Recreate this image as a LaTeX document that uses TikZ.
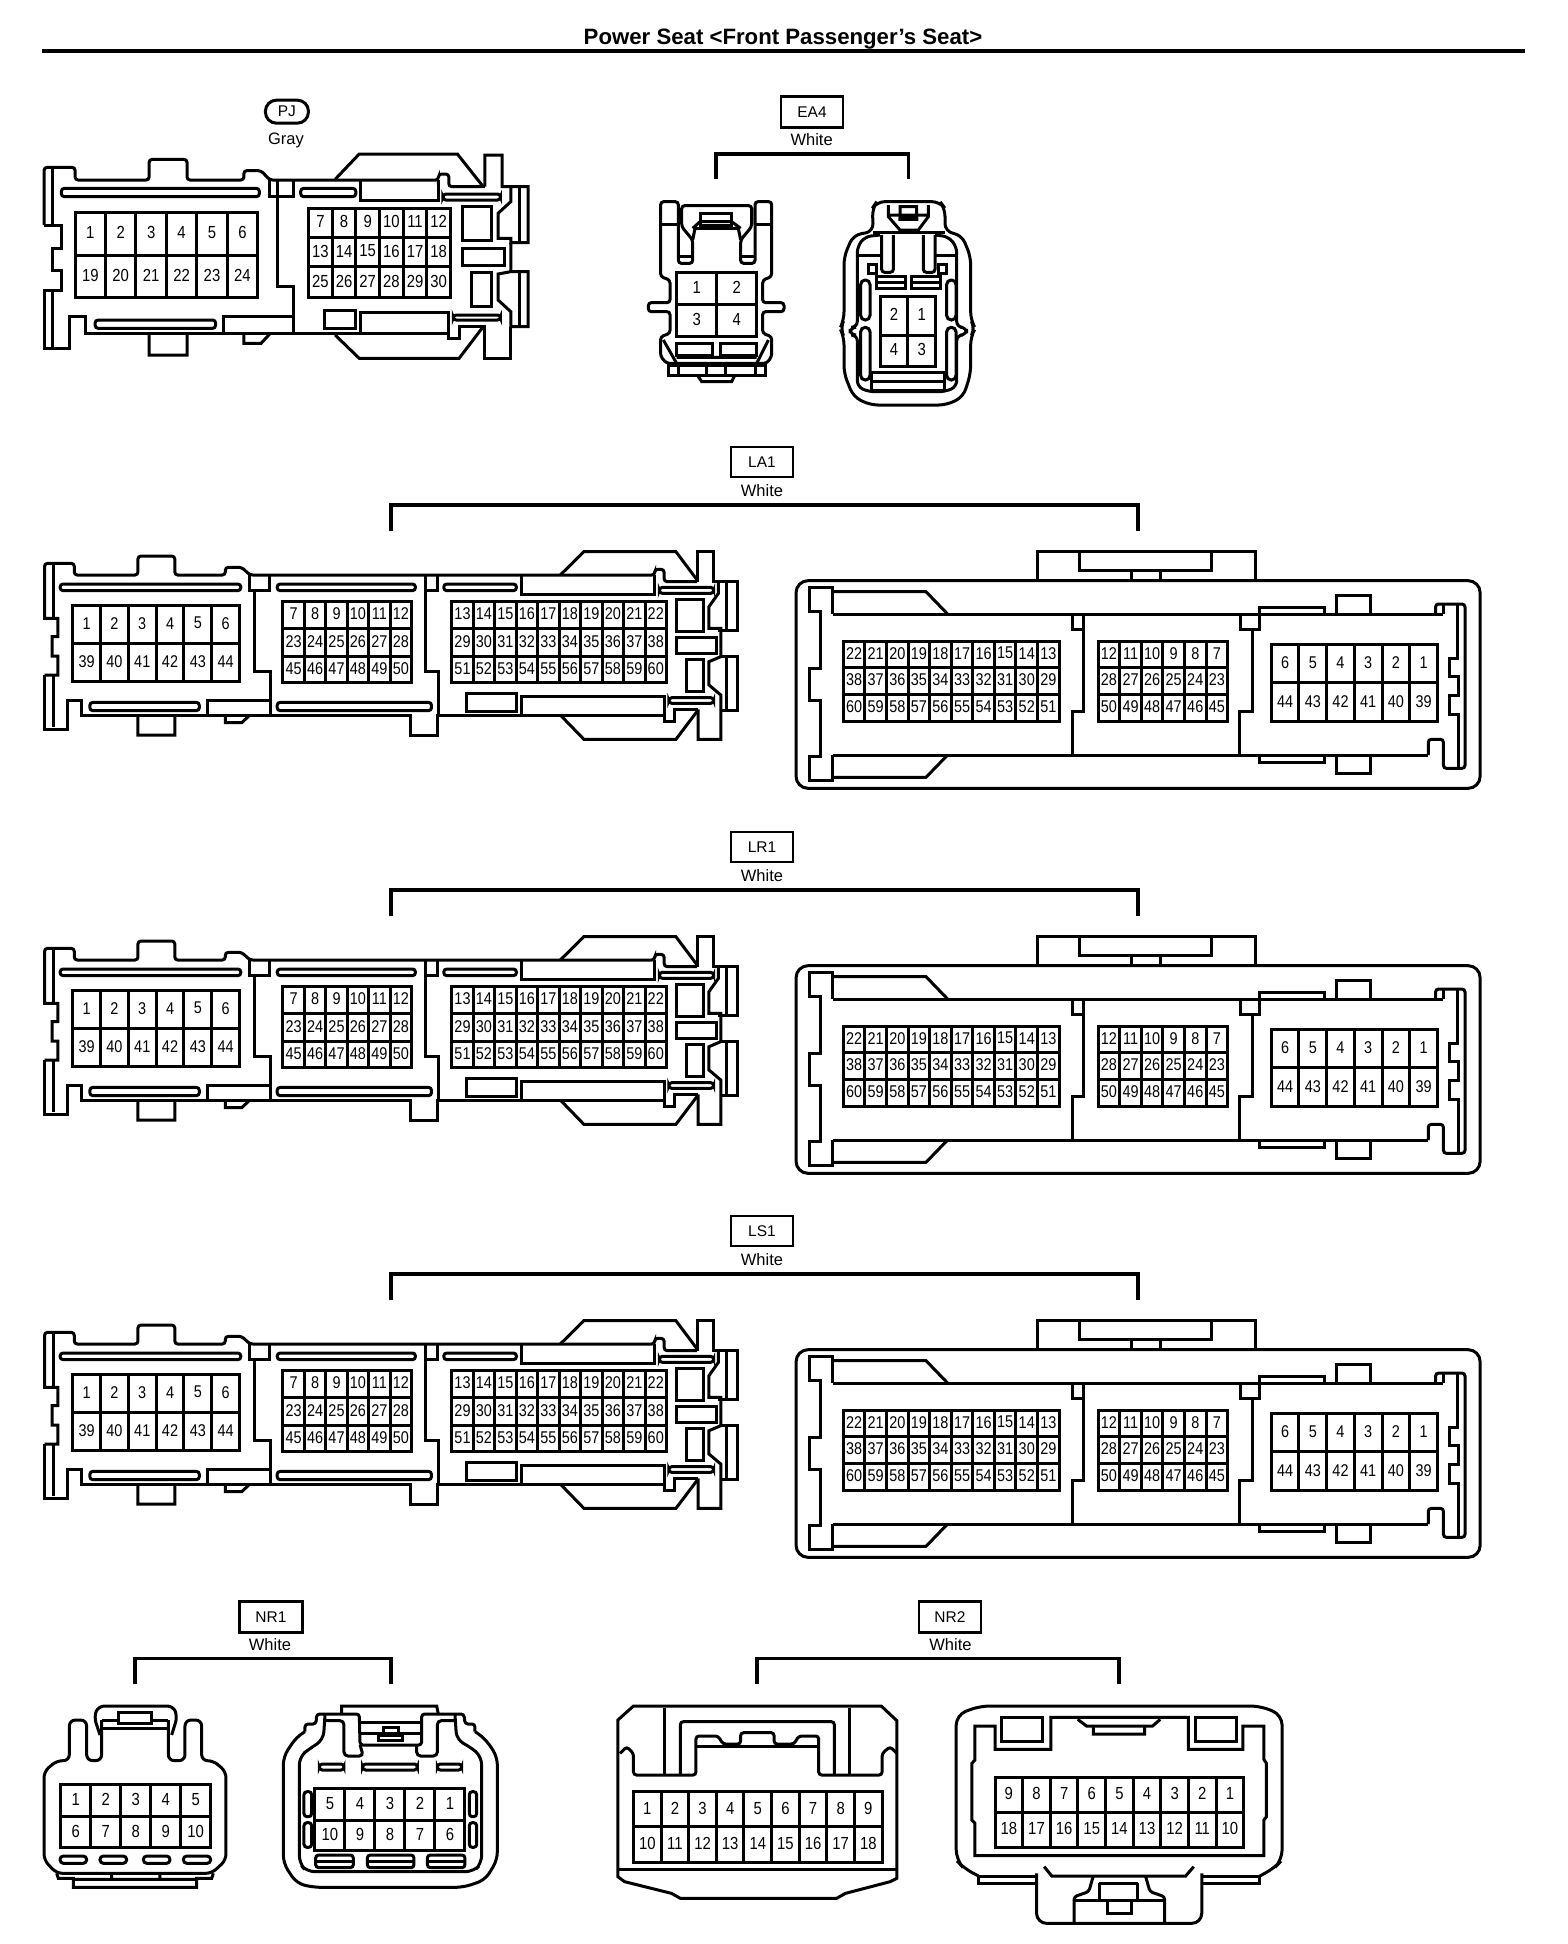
\documentclass[tikz,border=0pt]{standalone}
\usepackage{fontspec}
\usepackage{graphicx}
\setmainfont{Liberation Sans}
\def\sq{.85}
\tikzset{
  pinlabel/.style={inner sep=0pt,yshift=1pt,font=\fontsize{\pinsize}{\pinsize}\selectfont},
  conn/.style={x=#1,y=-.33333pt},
  tagbox/.style={draw,line width=2.8pt,inner sep=0pt,font=\fontsize{15.5}{16}\selectfont},
  colour/.style={inner sep=0pt,font=\fontsize{16.5}{17}\selectfont},
  bracket/.style={line width=3.4pt},
  rr/.style={rounded corners=3pt}
}
\def\pinsize{17.5}
\newcommand\Grid[4]{%
 \foreach \ya/\yb/\labs in {#4}{%
  \foreach \t [count=\i] in \labs {%
    \pgfmathsetmacro\xa{#1+(\i-1)*(#2-#1)/#3}%
    \pgfmathsetmacro\xb{#1+\i*(#2-#1)/#3}%
    \draw (\xa,\ya) rectangle (\xb,\yb);
    \node[pinlabel] (pin\t) at ({(\xa+\xb)/2},{(\ya+\yb)/2}) {\scalebox{\sq}[1]{\t}};
  }}}
% ---------- long connector, front view
\newcommand\LeftConn[1]{%
\begin{scope}[shift={(20,#1)},conn=.4719pt]
 \draw (52,435)--(80,435)--(80,378)--(68,378)--(68,320)--(80,320)--(80,265)--(52,265)--(52,108)[rr]--(52,100)--(115,100)--(115,135)--(250,135)--(250,78)--(328,78)--(328,135)--(435,135)--(435,112)--(470,112)--(487,135)--(1345,135)--(1345,118)--(1365,118)--(1365,155)--(1435,155);
 \draw (52,435)--(52,597)--(100,597)--(100,510)--(130,510)--(130,555)--(828,555)--(828,615)--(885,615)--(885,555)--(1365,555)--(1365,575)--(1387,575)--(1387,538)--(1437,538);
 \draw (70,105)--(70,265) (70,435)--(70,590);
 \draw (250,555)--(250,615)--(328,615)--(328,555) (435,555)--(435,578)--(470,578)--(487,555);
 \draw (1145,135)--(1195,65)--(1390,65)--(1435,150);
 \draw (1147,558)--(1195,628)--(1390,628)--(1437,540);
 \draw (1435,155)--(1435,65)--(1470,65)--(1470,155)--(1520,155)--(1520,300)--(1480,300);
 \draw (1480,155)--(1480,190)--(1460,230)--(1460,295)--(1485,295)--(1485,380)--(1460,395)--(1460,465)--(1485,495)--(1485,628)--(1437,628)--(1437,538);
 \draw (1485,380)--(1520,380)--(1520,540)--(1485,540);
 \draw (1498,155)--(1498,300) (1498,385)--(1498,540);
 \draw[rr] (85,162) rectangle (468,182) (545,162) rectangle (838,182) (898,162) rectangle (1052,182) (1355,172) rectangle (1470,190) (148,517) rectangle (380,542) (545,517) rectangle (872,542) (1375,503) rectangle (1470,520);
 \draw (1062,135)--(1062,192)--(1345,192)--(1345,135) (397,555)--(397,510)--(530,510) (947,490) rectangle (1052,543) (1062,555)--(1062,498)--(1365,498)--(1365,555);
 \draw (487,135)--(487,182)--(528,182)--(528,135) (497,182)--(497,425)--(530,425)--(530,555);
 \draw (860,135)--(860,182)--(885,182)--(885,135) (860,182)--(860,425)--(887,425)--(887,555);
 \draw (1392,208) rectangle (1448,303) (1392,322) rectangle (1475,370) (1412,388) rectangle (1448,483);
 \def\pinsize{17}
 \Grid{112}{465}{6}{225/340/{1,2,3,4,5,6},340/455/{39,40,41,42,43,44}}
 \Grid{557}{830}{6}{213/295/{7,8,9,10,11,12},295/378/{23,24,25,26,27,28},378/458/{45,46,47,48,49,50}}
 \Grid{915}{1370}{10}{213/295/{13,14,15,16,17,18,19,20,21,22},295/378/{29,30,31,32,33,34,35,36,37,38},378/458/{51,52,53,54,55,56,57,58,59,60}}
\end{scope}}
% ---------- long connector, rear view
\newcommand\RightConn[1]{%
\begin{scope}[shift={(780,#1)},conn=.4591pt]
 \draw[rounded corners=12pt] (35,152) rectangle (1525,775);
 \draw (560,152)--(560,65)--(1035,65)--(1035,152) (652,68)--(652,122)--(940,122)--(940,68) (765,122)--(765,152) (828,122)--(828,152);
 \draw (115,252)--(115,172)--(65,172)--(65,245)--(88,245)--(88,415)--(65,415)--(65,510)--(88,510)--(88,680)--(65,680)--(65,752)--(115,752)--(115,675);
 \draw (115,185)--(318,185)--(365,252) (115,742)--(318,742)--(365,675);
 \draw (115,252)--(1445,252) (115,675)--(1412,675);
 \draw (637,252)--(637,298)--(662,298)--(662,252) (662,298)--(662,545)--(637,545)--(637,675);
 \draw (1002,252)--(1002,298)--(1045,298)--(1045,252) (1030,298)--(1030,545)--(1000,545)--(1000,675);
 \draw (1045,252)--(1045,232)--(1187,232)--(1187,252) (1212,252)--(1212,197)--(1287,197)--(1287,252);
 \draw (1045,675)--(1045,697)--(1187,697)--(1187,675) (1212,675)--(1212,730)--(1287,730)--(1287,675);
 \draw[rr] (1428,252)--(1428,222)--(1492,222)--(1492,715)--(1445,715)--(1445,628)--(1412,628)--(1412,675);
 \draw (1445,222)--(1445,252) (1475,222)--(1475,385)--(1458,385)--(1458,438)--(1478,438)--(1478,495)--(1458,495)--(1458,552)--(1478,552)--(1478,712);
 \def\pinsize{17}
 \Grid{138}{608}{10}{333/412/{22,21,20,19,18,17,16,15,14,13},412/493/{38,37,36,35,34,33,32,31,30,29},493/575/{60,59,58,57,56,55,54,53,52,51}}
 \Grid{693}{975}{6}{333/412/{12,11,10,9,8,7},412/493/{28,27,26,25,24,23},493/575/{50,49,48,47,46,45}}
 \Grid{1070}{1432}{6}{343/458/{6,5,4,3,2,1},458/575/{44,43,42,41,40,39}}
\end{scope}}
\newcommand\TagAndBracket[5]{% name, y of box centre, node id, bracket left, bracket right
 \node[tagbox,minimum width=62pt,minimum height=30pt] (tag#3) at (762,#2) {#1};
 \node[colour] (col#3) at (762,{#2+28.5}) {White};
 \coordinate (bl#3) at (#4,{#2+43});
 \coordinate (br#3) at (#5,{#2+43});
 \coordinate (blt#3) at (#4,{#2+69});
 \coordinate (brt#3) at (#5,{#2+69});
 \draw[bracket] (blt#3)--(bl#3)--(br#3)--(brt#3);
}
\begin{document}
\begin{tikzpicture}[x=1pt,y=-1pt,line width=3pt,line join=miter]
\useasboundingbox (0,0) rectangle (1568,1944);
\fill[white] (0,0) rectangle (1568,1944);
% title
\node[inner sep=0pt,font=\bfseries\fontsize{22.2}{23}\selectfont] (title) at (783,39.5) {Power Seat <Front Passenger\symbol{39}s Seat>};
\coordinate (rl) at (42,51); \coordinate (rr1) at (1525,51);
\draw[line width=4.2pt] (rl)--(rr1);
% ============ PJ
\begin{scope}[shift={(20,80)},conn=.3444pt]
 \node[draw,line width=3pt,rounded corners=11pt,minimum width=43pt,minimum height=23pt,inner sep=0pt,font=\fontsize{15.5}{16}\selectfont] (tagPJ) at (775,95) {PJ};
 \node[colour] (colPJ) at (772,180) {Gray};
 \draw (70,435)--(120,435)--(120,505)--(95,505)--(95,570)--(120,570)--(120,630)--(70,630)--(70,805)--(145,805)--(145,708)--(190,708)--(190,760)--(795,760);
 \draw[rr] (70,435)--(70,262)--(160,262)--(160,300)--(375,300)--(375,238)--(485,238)--(485,300)--(650,300)--(650,272)--(700,272)--(725,300)--(1215,300)--(1215,282)--(1245,282)--(1245,320)--(1350,320);
 \draw (95,265)--(95,435) (95,630)--(95,805);
 \draw (375,760)--(375,825)--(485,825)--(485,760) (650,762)--(650,790)--(700,790)--(725,762);
 \draw (915,298)--(985,222)--(1270,222)--(1345,320);
 \draw (915,765)--(985,835)--(1275,835)--(1345,740);
 \draw (795,760)--(1245,760)--(1245,775)--(1275,775)--(1275,740)--(1350,740)--(1350,835)--(1425,835)--(1425,740);
 \draw (1350,320)--(1350,225)--(1400,225)--(1400,320)--(1475,320)--(1475,488)--(1425,488)--(1425,475)--(1388,475)--(1388,400)--(1425,365)--(1425,320);
 \draw (1425,488)--(1425,575)--(1388,582)--(1388,660)--(1425,695)--(1425,740)--(1475,740)--(1475,575)--(1425,575);
 \draw (1450,320)--(1450,488) (1450,575)--(1450,740);
 \draw[rr] (120,325) rectangle (695,350) (815,325) rectangle (975,350) (1228,342) rectangle (1395,360) (218,720) rectangle (568,745) (1258,705) rectangle (1395,720);
 \draw (990,300)--(990,362)--(1215,362)--(1215,300) (590,760)--(590,710)--(795,710) (885,690) rectangle (975,745) (990,760)--(990,698)--(1245,698)--(1245,760);
 \draw (725,300)--(725,350)--(795,350)--(795,300) (748,300)--(748,620)--(795,620)--(795,760);
 \draw (1285,380) rectangle (1370,480) (1285,505) rectangle (1408,555) (1310,578) rectangle (1370,680);
 \Grid{160}{690}{6}{398/525/{1,2,3,4,5,6},525/652/{19,20,21,22,23,24}}
 \Grid{838}{1250}{6}{385/472/{7,8,9,10,11,12},472/560/{13,14,15,16,17,18},560/652/{25,26,27,28,29,30}}
\end{scope}
% ============ EA4
\begin{scope}[shift={(620,80)},conn=.33333pt]
 \node[tagbox,minimum width=62pt,minimum height=31pt] (tagEA4) at (576,95) {EA4};
 \node[colour] (colEA4) at (575,178) {White};
 \coordinate (a1) at (288,298); \coordinate (a2) at (288,222); \coordinate (a3) at (865,222); \coordinate (a4) at (865,298);
 \draw[bracket] (a1)--(a2)--(a3)--(a4);
 % left
 \draw[rr] (175,550)--(175,365)--(122,365)--(122,590)--(150,600)--(150,668)--(85,668)--(85,695)--(150,695)--(150,760)--(122,770)--(122,830)--(140,850)--(440,850)--(455,830)--(455,770)--(428,760)--(428,695)--(492,695)--(492,668)--(428,668)--(428,600)--(455,590)--(455,365)--(405,365)--(405,550)--(362,550)--(362,480)--(395,440)--(395,377)--(185,377)--(185,440)--(218,480)--(218,550)--cycle;
 \draw (122,432)--(175,432) (405,432)--(455,432) (175,530)--(218,530) (362,530)--(405,530);
 \draw (218,480)--(225,445)--(355,445)--(362,480) (218,445)--(240,425)--(335,425)--(362,445);
 \draw (240,400) rectangle (335,437);
 \Grid{170}{410}{2}{578/672/{1,2},672/768/{3,4}}
 \draw (168,790) rectangle (278,825) (300,790) rectangle (410,825);
 \draw (130,780)--(170,850) (445,780)--(410,850) (170,832)--(410,832);
 \draw (145,855) rectangle (435,885) (175,858)--(175,885) (405,858)--(405,885) (260,855)--(260,885) (315,855)--(315,885);
 \draw (232,885)--(245,905)--(335,905)--(345,885);
 % right
 \draw[rounded corners=8pt] (760,455)--(700,465)--(672,530)--(672,720)--(660,745)--(672,770)--(672,880)--(700,950)--(750,975)--(980,975)--(1030,950)--(1052,880)--(1052,770)--(1066,745)--(1052,720)--(1052,530)--(1025,465)--(975,455)--(975,385)--(960,365)--(770,365)--(757,385)--cycle;
 \draw[rounded corners=6pt] (780,465)--(735,470)--(712,500)--(712,742)--(690,742)--(690,765)--(712,765)--(712,920)--(745,935)--(975,935)--(1010,920)--(1010,765)--(1040,765)--(1040,742)--(1010,742)--(1010,500)--(985,470)--(945,465);
 \draw (760,458)--(975,458);
 \draw (715,525)--(782,525) (945,525)--(1010,525);
 \draw[rr] (785,465)--(785,577)--(820,577)--(820,465) (910,465)--(910,577)--(945,577)--(945,465);
 \draw (745,552) rectangle (770,580) (955,552) rectangle (980,580);
 \draw (768,590) rectangle (855,625) (768,607)--(855,607) (873,590) rectangle (960,625) (873,607)--(960,607);
 \draw[rounded corners=4.5pt] (722,600) rectangle (750,720) (722,742) rectangle (750,900) (980,600) rectangle (1008,720) (980,742) rectangle (1008,900);
 \Grid{780}{947}{2}{648/765/{2,1},765/860/{4,3}}
 \draw (755,878) rectangle (972,932) (755,905)--(972,905);
 \draw (805,375)--(805,410)--(840,450)--(895,450)--(925,410)--(925,375) (840,380) rectangle (890,410) (805,405)--(925,405) (835,418)--(895,418);
\end{scope}
% ============ LA1 / LR1 / LS1
\TagAndBracket{LA1}{462}{LA}{391}{1138}
\LeftConn{530}\RightConn{530}
\TagAndBracket{LR1}{847}{LR}{391}{1138}
\LeftConn{915}\RightConn{915}
\TagAndBracket{LS1}{1231}{LS}{391}{1138}
\LeftConn{1299}\RightConn{1299}
% ============ NR1
\begin{scope}[shift={(20,1600)},conn=.33333pt]
 \node[tagbox,minimum width=63pt,minimum height=31pt] (tagNR1) at (753,50) {NR1};
 \node[colour] (colNR1) at (750,133) {White};
 \coordinate (b1) at (345,252); \coordinate (b2) at (345,175); \coordinate (b3) at (1113,175); \coordinate (b4) at (1113,252);
 \draw[bracket] (b1)--(b2)--(b3)--(b4);
 % left
 \draw[rounded corners=6pt] (240,405)--(222,350)--(235,318)--(460,318)--(472,350)--(455,405);
 \draw[rounded corners=6pt] (245,360)--(245,482)--(200,482)--(200,360)--(148,360)--(148,482)--(110,482)--(72,515)--(72,780)--(110,820)--(575,820)--(618,780)--(618,515)--(580,482)--(545,482)--(545,360)--(495,360)--(495,482)--(445,482)--(445,360);
 \draw (245,360)--(295,360) (395,360)--(445,360);
 \draw (245,385)--(445,385) (295,337) rectangle (395,370);
 \draw (110,820)--(115,835)--(160,835)--(160,862)--(530,862)--(530,835)--(575,835)--(580,820) (160,838)--(530,838) (275,820)--(275,835) (420,820)--(420,835);
 \draw[rounded corners=3.5pt] (120,768) rectangle (200,790) (240,768) rectangle (320,790) (370,768) rectangle (450,790) (490,768) rectangle (572,790);
 \Grid{122}{572}{5}{553/650/{1,2,3,4,5},650/742/{6,7,8,9,10}}
 % right
 \draw[rounded corners=8pt] (855,395)--(830,410)--(790,470)--(790,790)--(830,850)--(880,862)--(1330,862)--(1395,840)--(1432,780)--(1432,470)--(1395,415)--(1365,395);
 \draw[rounded corners=3pt] (855,395)--(855,372)--(888,372)--(890,342)--(1018,342)--(1020,435)--(1205,435)--(1205,342)--(1332,342)--(1335,372)--(1365,372)--(1365,395);
 \draw (965,342)--(965,318)--(1250,318)--(1255,342);
 \draw[rounded corners=8pt] (1305,345)--(1310,420)--(1350,440)--(1385,470)--(1385,790)--(1360,815)--(860,815)--(838,790)--(838,470)--(870,445)--(910,420)--(915,345);
 \draw[rounded corners=4pt] (915,362)--(972,362)--(972,468)--(1030,468)--(1020,435) (1190,435)--(1190,468)--(1252,468)--(1252,362)--(1305,362);
 \draw (1020,367)--(1205,367) (1020,400)--(1205,400) (1075,405) rectangle (1148,420) (1090,382) rectangle (1135,405);
 \draw[rounded corners=3pt] (898,492) rectangle (972,510) (1028,492) rectangle (1192,510) (1252,492) rectangle (1325,510);
 \draw[rounded corners=3pt] (852,575) rectangle (875,650) (852,668) rectangle (875,742) (1348,575) rectangle (1370,650) (1348,668) rectangle (1370,742);
 \Grid{885}{1335}{5}{565/660/{5,4,3,2,1},660/752/{10,9,8,7,6}}
 \draw[rounded corners=3pt] (887,765) rectangle (1000,803) (1042,765) rectangle (1182,803) (1222,765) rectangle (1335,803);
 \draw (887,784)--(1000,784) (1042,784)--(1182,784) (1222,784)--(1335,784);
\end{scope}
% ============ NR2
\begin{scope}[shift={(600,1600)},conn=.4464pt]
 \node[tagbox,minimum width=62pt,minimum height=31pt] (tagNR2) at (784,50) {NR2};
 \node[colour] (colNR2) at (785,133) {White};
 \coordinate (c1) at (352,252); \coordinate (c2) at (352,175); \coordinate (c3) at (1163,175); \coordinate (c4) at (1163,252);
 \draw[bracket] (c1)--(c2)--(c3)--(c4);
 % left
 \draw (75,318)--(630,318)--(665,362)--(665,835)--(650,845)--(550,880)--(530,895)--(180,895)--(160,880)--(55,845)--(40,830)--(40,360)--cycle;
 \draw (40,808)--(665,808);
 \draw[rr] (145,525)--(145,325) (560,525)--(560,325);
 \draw[rr] (45,460)--(60,440)--(75,460)--(75,525)--(215,525)--(215,408)--(265,408)--(275,432)--(315,432)--(315,398)--(390,398)--(390,432)--(435,432)--(445,408)--(490,408)--(490,525)--(632,525)--(632,460)--(650,440)--(665,460);
 \draw[rr] (180,525)--(180,365)--(525,365)--(525,525);
 \draw (215,440)--(490,440);
 \Grid{75}{632}{9}{575/680/{1,2,3,4,5,6,7,8,9},680/787/{10,11,12,13,14,15,16,17,18}}
 % right
 \draw[rounded corners=10pt] (848,828)--(815,805)--(798,780)--(798,345)--(850,318)--(1480,318)--(1528,345)--(1528,780)--(1510,805)--(1478,828);
 \draw (848,828)--(848,850)--(978,850) (1478,828)--(1478,850)--(1348,850) (848,828)--(978,828) (1348,828)--(1478,828);
 \draw[rounded corners=10pt] (978,820)--(978,970)--(1348,970)--(1348,820);
 \draw (885,378)--(840,378)--(840,480)--(833,490)--(833,660)--(840,670)--(840,767)--(1487,767)--(1487,660)--(1493,650)--(1493,490)--(1487,478)--(1487,378)--(1440,378)--(1440,448)--(1318,448)--(1318,352)--(1010,352)--(1010,448)--(885,448)--cycle;
 \draw (900,352) rectangle (992,425) (1335,352) rectangle (1425,425);
 \draw (1070,358)--(1090,378)--(1238,378)--(1255,358) (1105,378)--(1105,402)--(1220,402)--(1220,378);
 \Grid{885}{1442}{9}{532/637/{9,8,7,6,5,4,3,2,1},637/742/{18,17,16,15,14,13,12,11,10}}
 \draw (995,800)--(1012,828)--(1312,828)--(1330,800);
 \draw[rr] (1105,828)--(1095,875)--(1062,890)--(1062,968) (1222,828)--(1232,875)--(1265,890)--(1265,968);
 \draw (1062,900)--(1265,900) (1118,850)--(1205,850) (1118,850)--(1118,900) (1205,850)--(1205,900) (1137,900) rectangle (1190,940);
\end{scope}
\end{tikzpicture}
\end{document}
